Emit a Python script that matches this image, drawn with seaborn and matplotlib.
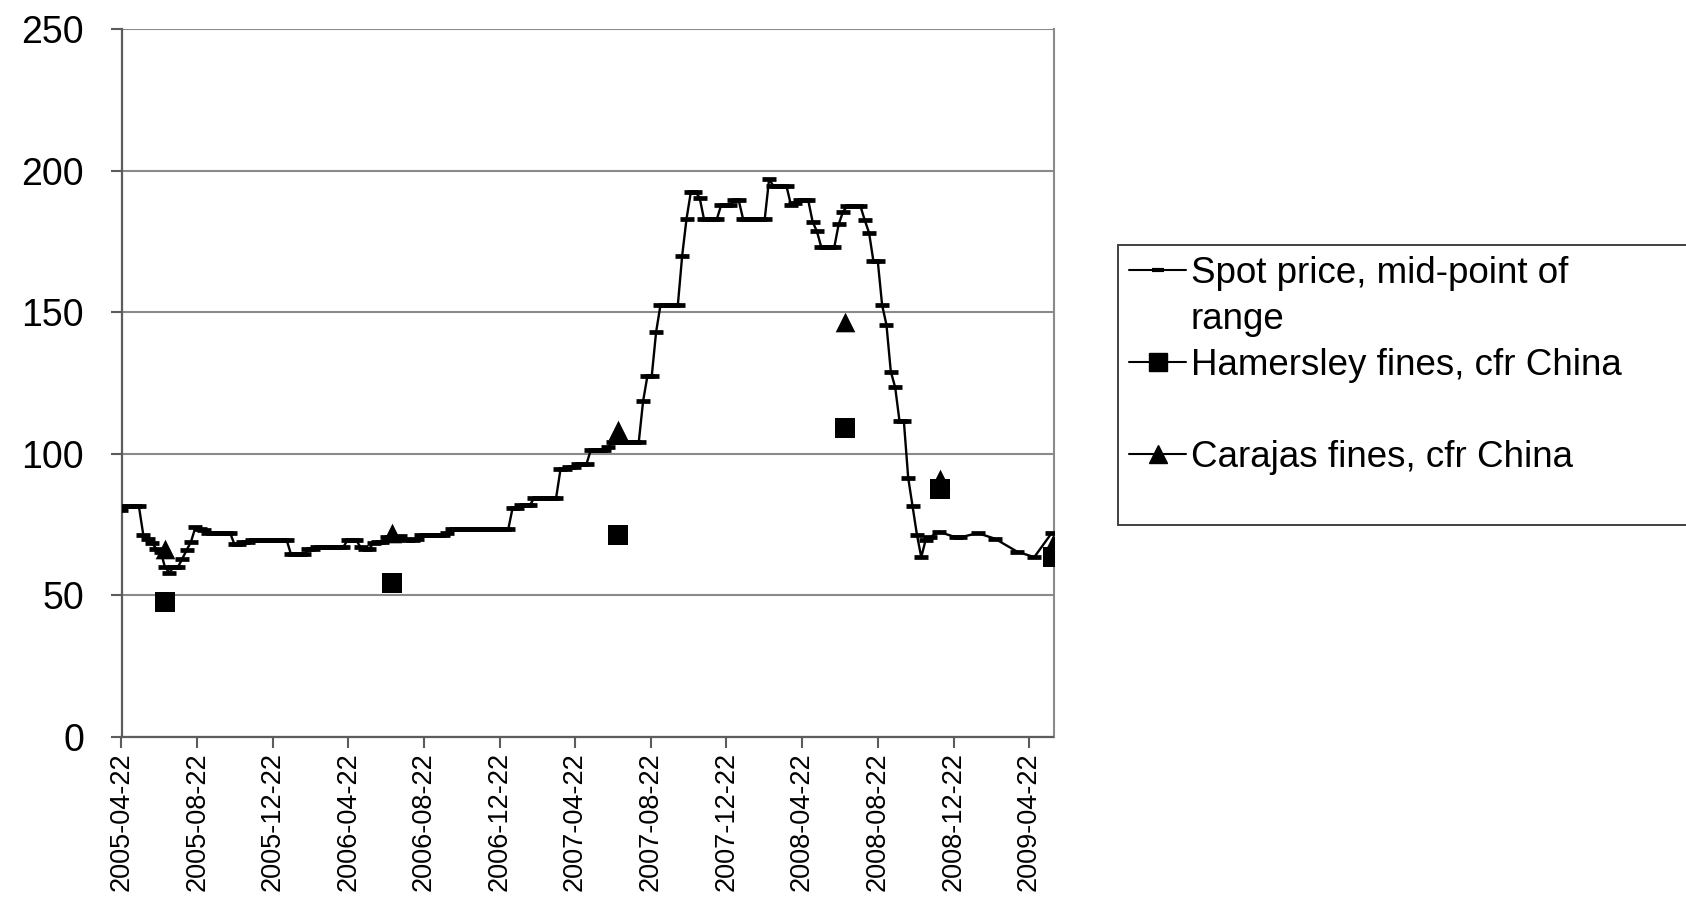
import numpy as np
import pandas as pd
import matplotlib
matplotlib.use("Agg")
import matplotlib.pyplot as plt
from matplotlib.lines import Line2D
import seaborn as sns

# ---------------- data ----------------
start_date = "2005-04-22"          # first weekly spot quote
axis_end = "2009-06-01"
spot_price = [
    80, 81.5, 81.5, 81.5, 81.5, 71.5, 70, 68.5, 66.5, 65.5, 60, 58, 60, 60, 63, 66, 69, 74, 73.5, 73,
    72, 72, 72, 72, 72, 72, 68, 68, 69, 69, 69.5, 69.5, 69.5, 69.5, 69.5, 69.5, 69.5, 69.5, 69.5, 64.5,
    64.5, 64.5, 64.5, 66.5, 66.5, 67, 67, 67, 67, 67, 67, 67, 69.5, 69.5, 69.5, 67, 66.5, 66.5, 68.5, 69,
    69, 70.5, 70.5, 70.5, 71, 70, 69.5, 69.5, 70, 71.5, 71.5, 71.5, 71.5, 71.5, 71.5, 72, 73.5, 73.5, 73.5, 73.5,
    73.5, 73.5, 73.5, 73.5, 73.5, 73.5, 73.5, 73.5, 73.5, 73.5, 81, 81, 82, 82, 82, 84.5, 84.5, 84.5, 84.5, 84.5,
    84.5, 94.5, 94.5, 95.5, 95.5, 96.5, 96.5, 96.5, 101.5, 101.5, 101.5, 101.5, 102.5, 104, 104, 104, 104, 104, 104, 104,
    118.5, 127.5, 127.5, 143, 152.5, 152.5, 152.5, 152.5, 152.5, 170, 183, 192.5, 192.5, 190.5, 183, 183, 183, 183, 188, 188,
    188, 189.5, 189.5, 183, 183, 183, 183, 183, 183, 197, 194.5, 194.5, 194.5, 194.5, 188, 188.5, 189.5, 189.5, 189.5, 182,
    178.5, 173, 173, 173, 173, 181, 185.5, 187.5, 187.5, 187.5, 187.5, 182.5, 178, 168, 168, 152.5, 145.5, 129, 123.5, 111.5,
    111.5, 91.5, 81.5, 71.5, 63.5, 69.5, 70.5, None, 72.5, None, None, None, 70.5, 70.5, None, None, None, 72, None, None,
    None, 70, None, None, None, None, 65.5, None, None, None, 63.5, None, None, None, 72,
]
contract_dates = ["2005-07-01", "2006-07-01", "2007-07-01", "2008-07-01", "2008-12-01", "2009-06-01"]
hamersley = [47.5, 54.4, 71.2, 109, 87.7, 63.7]
carajas = [66.3, 72, 108.5, 146.5, 91, 68.3]
tick_labels = ["2005-04-22", "2005-08-22", "2005-12-22", "2006-04-22", "2006-08-22", "2006-12-22",
               "2007-04-22", "2007-08-22", "2007-12-22", "2008-04-22", "2008-08-22", "2008-12-22",
               "2009-04-22"]
y_ticks = [0, 50, 100, 150, 200, 250]
series_names = ["Spot price, mid-point of", "range", "Hamersley fines, cfr China",
                "Carajas fines, cfr China"]

# ---------------- frames ----------------
spot = pd.DataFrame({
    "date": pd.date_range(start_date, periods=len(spot_price), freq="7D"),
    "price": pd.Series(spot_price, dtype="float"),
}).dropna()
contracts = pd.DataFrame({
    "date": pd.to_datetime(contract_dates),
    "Hamersley": hamersley,
    "Carajas": carajas,
})

# ---------------- style ----------------
sns.set_theme(style="white")
plt.rcParams["font.family"] = ["Liberation Sans", "DejaVu Sans"]
plt.rcParams["text.color"] = "black"
plt.rcParams["xtick.color"] = "black"
plt.rcParams["ytick.color"] = "black"

W, H = 1686, 900
fig = plt.figure(figsize=(W / 100, H / 100), dpi=100)
L, R, T, B = 121.5, 1053.5, 29, 737
ax = fig.add_axes([L / W, 1 - B / H, (R - L) / W, (B - T) / H])

sns.lineplot(data=spot, x="date", y="price", ax=ax, color="black", linewidth=1.7,
             marker="_", markersize=10, markeredgewidth=3.4, markeredgecolor="black",
             estimator=None, sort=False, zorder=4)
sns.scatterplot(data=contracts, x="date", y="Carajas", ax=ax, marker="^", s=200,
                color="black", edgecolor="black", linewidth=0, zorder=5)
sns.scatterplot(data=contracts, x="date", y="Hamersley", ax=ax, marker="s", s=205,
                color="black", edgecolor="black", linewidth=0, zorder=6)

ax.set_xlim(pd.Timestamp(start_date), pd.Timestamp(axis_end))
ax.set_ylim(y_ticks[0], y_ticks[-1])
ax.set_yticks(y_ticks)
ax.set_yticklabels([str(v) for v in y_ticks])
ax.set_xticks(pd.to_datetime(tick_labels))
ax.set_xticklabels(tick_labels, rotation=90, va="top", ha="center")
ax.set_xlabel("")
ax.set_ylabel("")

ax.yaxis.grid(True, color="#8a8a8a", linewidth=1.5)
ax.xaxis.grid(False)
ax.set_axisbelow(True)
for side in ["left", "bottom"]:
    ax.spines[side].set_color("#5c5c5c")
    ax.spines[side].set_linewidth(1.6)
ax.spines["right"].set_color("#8a8a8a")
ax.spines["right"].set_linewidth(1.5)
ax.spines["top"].set_visible(False)
ax.tick_params(axis="y", which="major", left=True, length=8, width=1.5, color="#5c5c5c",
               labelsize=27, pad=19, labelcolor="black")
ax.tick_params(axis="x", which="major", bottom=True, length=8, width=1.5, color="#5c5c5c",
               labelsize=19.5, pad=3, labelcolor="black")

# ---------------- legend ----------------
spot_h = Line2D([], [], color="black", linewidth=1.5, marker="_", markersize=8, markeredgewidth=3)
ham_h = Line2D([], [], color="black", linewidth=1.5, marker="s", markersize=13)
car_h = Line2D([], [], color="black", linewidth=1.5, marker="^", markersize=13)
blank = Line2D([], [], linestyle="none", marker=None)
leg = ax.legend(handles=[spot_h, blank, ham_h, blank, car_h, blank],
                labels=[series_names[0], series_names[1], series_names[2], " ", series_names[3], " "],
                loc="upper left", bbox_to_anchor=(1118 / W, 1 - 519 / H, 0.5, 274 / H),
                bbox_transform=fig.transFigure, mode="expand", fontsize=26.5,
                handlelength=1.55, handletextpad=0.12, labelspacing=0.3, borderpad=0.3,
                borderaxespad=0, numpoints=1, frameon=True, fancybox=False, framealpha=1)
leg.get_frame().set_edgecolor("#404040")
leg.get_frame().set_linewidth(1.4)
for txt in leg.get_texts():
    txt.set_color("black")
leg.get_texts()[-1].set_fontsize(6)

fig.savefig("out.png", dpi=100)
